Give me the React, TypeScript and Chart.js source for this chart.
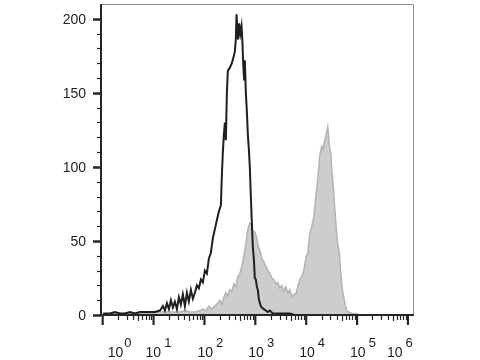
import React, { useEffect, useRef } from "react";
import { Chart, registerables } from "chart.js";

Chart.register(...registerables);

// x values are log10 of fluorescence intensity (decades)
const blackX = [0.01, 0.143, 0.242, 0.34, 0.438, 0.536, 0.634, 0.732, 0.831, 0.929, 1.027, 1.125, 1.184, 1.223, 1.262, 1.302, 1.341, 1.38, 1.419, 1.459, 1.498, 1.537, 1.576, 1.616, 1.655, 1.694, 1.734, 1.773, 1.812, 1.852, 1.891, 1.93, 1.969, 2.009, 2.048, 2.087, 2.126, 2.166, 2.205, 2.244, 2.284, 2.323, 2.343, 2.362, 2.382, 2.402, 2.421, 2.441, 2.46, 2.5, 2.539, 2.578, 2.598, 2.617, 2.631, 2.647, 2.663, 2.682, 2.706, 2.729, 2.745, 2.761, 2.78, 2.794, 2.814, 2.833, 2.853, 2.873, 2.892, 2.912, 2.932, 2.951, 2.971, 2.99, 3.01, 3.03, 3.049, 3.069, 3.089, 3.108, 3.128, 3.167, 3.206, 3.246, 3.285, 3.344, 3.403, 3.481, 3.58, 3.678, 3.776, 3.874];
const blackY = [1, 1, 2, 1, 1, 2, 1, 2, 2, 2, 2, 3, 6, 3, 8, 4, 10, 5, 9, 4, 12, 7, 14, 6, 15, 9, 17, 11, 15, 20, 18, 24, 22, 30, 28, 38, 42, 52, 58, 64, 70, 74, 95, 110, 122, 130, 118, 150, 165, 167, 170, 175, 178, 186, 203, 192, 186, 197, 190, 195, 186, 170, 159, 172, 150, 138, 122, 112, 100, 80, 62, 46, 38, 25, 24, 19, 17, 11, 8, 6, 5, 4, 3, 2, 3, 1, 1, 1, 1, 1, 0, 0];

const grayX = [0.01, 0.143, 0.34, 0.536, 0.732, 0.929, 1.125, 1.321, 1.518, 1.616, 1.714, 1.812, 1.911, 1.969, 2.028, 2.087, 2.146, 2.205, 2.264, 2.303, 2.343, 2.382, 2.421, 2.46, 2.5, 2.539, 2.578, 2.617, 2.657, 2.696, 2.735, 2.775, 2.814, 2.853, 2.892, 2.926, 2.951, 2.99, 3.03, 3.059, 3.089, 3.128, 3.167, 3.206, 3.246, 3.285, 3.324, 3.363, 3.403, 3.442, 3.481, 3.52, 3.56, 3.599, 3.638, 3.678, 3.717, 3.756, 3.795, 3.835, 3.874, 3.913, 3.953, 3.992, 4.031, 4.071, 4.11, 4.149, 4.189, 4.228, 4.267, 4.306, 4.335, 4.365, 4.394, 4.424, 4.443, 4.463, 4.483, 4.502, 4.532, 4.561, 4.591, 4.62, 4.65, 4.679, 4.709, 4.738, 4.767, 4.797, 4.836, 4.895, 4.974, 5.052];
const grayY = [0.5, 1, 1, 1, 1, 1, 2, 2, 2, 3, 2, 2, 3, 4, 3, 6, 4, 6, 8, 10, 7, 12, 15, 13, 17, 16, 21, 19, 26, 28, 33, 40, 48, 58, 62, 61, 57, 56, 52, 46, 44, 38, 36, 33, 30, 28, 25, 24, 21, 22, 18, 20, 16, 19, 15, 17, 12, 14, 14, 19, 24, 26, 30, 38, 42, 55, 60, 66, 80, 92, 108, 114, 112, 118, 122, 127, 120, 112, 110, 98, 87, 72, 58, 48, 42, 28, 18, 12, 7, 3, 2, 1, 1, 0];

const xDecades = [0, 1, 2, 3, 4, 5, 6];
const xLabelBase = "10";
const yTickLabels = [0, 50, 100, 150, 200];

const toPoints = (xs: number[], ys: number[]) => xs.map((x, i) => ({ x, y: ys[i] }));

const axesPlugin = {
  id: "flowAxes",
  afterDraw(chart: any) {
    const { ctx, chartArea, scales } = chart;
    const { left, right, top, bottom } = chartArea;
    const xs = scales.x;
    const ys = scales.y;
    ctx.save();
    // thin plot border (top/right)
    ctx.strokeStyle = "#8c8c8c";
    ctx.lineWidth = 1;
    ctx.beginPath();
    ctx.moveTo(left, top + 0.5);
    ctx.lineTo(right + 0.5, top + 0.5);
    ctx.lineTo(right + 0.5, bottom);
    ctx.stroke();

    // main axes
    ctx.strokeStyle = "#262626";
    ctx.lineWidth = 2;
    ctx.beginPath();
    ctx.moveTo(left, top);
    ctx.lineTo(left, bottom + 1);
    ctx.moveTo(left - 1, bottom);
    ctx.lineTo(right + 1, bottom);
    ctx.stroke();

    // y ticks
    for (let v = 0; v <= 200; v += 10) {
      const py = Math.round(ys.getPixelForValue(v)) + 0.5;
      const major = v % 50 === 0;
      ctx.lineWidth = major ? 2.5 : 1.2;
      ctx.beginPath();
      ctx.moveTo(left - (major ? 8 : 4), py);
      ctx.lineTo(left, py);
      ctx.stroke();
    }
    // x ticks
    for (let d = 0; d < xDecades.length; d++) {
      const dec = xDecades[d];
      const px = xs.getPixelForValue(dec);
      ctx.lineWidth = 2.2;
      ctx.beginPath();
      ctx.moveTo(px, bottom);
      ctx.lineTo(px, bottom + 10);
      ctx.stroke();
      if (d < xDecades.length - 1) {
        for (let k = 2; k <= 9; k++) {
          const mx = xs.getPixelForValue(dec + Math.log10(k));
          ctx.lineWidth = 1.2;
          ctx.beginPath();
          ctx.moveTo(Math.round(mx) + 0.5, bottom);
          ctx.lineTo(Math.round(mx) + 0.5, bottom + (k === 5 ? 6 : 5));
          ctx.stroke();
        }
      }
    }

    // labels
    ctx.fillStyle = "#1e1e1e";
    ctx.font = '14px "Liberation Sans", Arial, sans-serif';
    ctx.textAlign = "right";
    ctx.textBaseline = "middle";
    yTickLabels.forEach((v) => {
      ctx.fillText(String(v), left - 15, ys.getPixelForValue(v) + 1);
    });

    const offsets = [5, -8, -7, -7, -7, -7, -21];
    ctx.textAlign = "left";
    ctx.textBaseline = "alphabetic";
    xDecades.forEach((dec, i) => {
      const lx = xs.getPixelForValue(dec) + offsets[i];
      ctx.font = '14px "Liberation Sans", Arial, sans-serif';
      ctx.fillText(xLabelBase, lx, bottom + 42);
      const w = ctx.measureText(xLabelBase).width;
      ctx.font = '13px "Liberation Sans", Arial, sans-serif';
      ctx.fillText(String(dec), lx + w + (i === 0 ? 1 : 3), bottom + 32);
    });
    ctx.restore();
  },
};

export default function App() {
  const ref = useRef<HTMLCanvasElement>(null);
  useEffect(() => {
    if (!ref.current) return;
    const chart = new Chart(ref.current, {
      type: "line",
      data: {
        datasets: [
          {
            label: "Control",
            data: toPoints(blackX, blackY),
            borderColor: "#1f1f1f",
            borderWidth: 2,
            pointRadius: 0,
            fill: false,
            tension: 0,
            order: 0,
          },
          {
            label: "Stained",
            data: toPoints(grayX, grayY),
            borderColor: "#b4b4b4",
            backgroundColor: "#cdcdcd",
            borderWidth: 1.5,
            pointRadius: 0,
            fill: "origin",
            tension: 0,
            order: 1,
          },
        ],
      },
      options: {
        responsive: false,
        animation: false,
        devicePixelRatio: 1,
        layout: { padding: { left: 101, right: 67, top: 4, bottom: 45 } },
        plugins: { legend: { display: false }, tooltip: { enabled: false } },
        scales: {
          x: { type: "linear", min: -0.033, max: 6.099, display: false },
          y: { type: "linear", min: 0, max: 210, display: false },
        },
      },
      plugins: [axesPlugin],
    });
    return () => chart.destroy();
  }, []);
  return (
    <canvas
      ref={ref}
      width={480}
      height={360}
      style={{ position: "fixed", left: 0, top: 0, background: "#fff" }}
    />
  );
}
